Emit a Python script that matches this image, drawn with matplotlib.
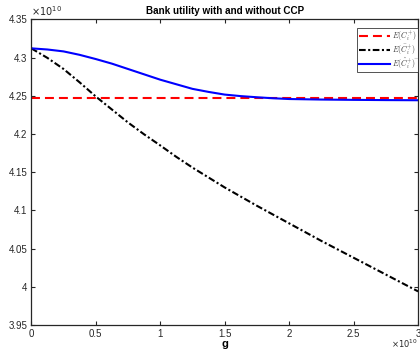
import matplotlib
matplotlib.use("Agg")
import matplotlib.pyplot as plt
from matplotlib.ticker import FuncFormatter, FixedLocator

plt.rcParams['font.family'] = ['Liberation Sans', 'DejaVu Sans']
plt.rcParams['mathtext.fontset'] = 'cm'

# data (x in units of g /1e10, y utility /1e10)
g = [0.0, 0.125, 0.25, 0.375, 0.5, 0.625, 0.75, 0.875, 1.0, 1.125, 1.25, 1.375,
     1.5, 1.625, 1.75, 1.875, 2.0, 2.25, 2.5, 2.75, 3.0]
scale = 1e10
red_level = 4.2467
black_vals = [4.312, 4.2995, 4.285, 4.2675, 4.249, 4.232, 4.215, 4.1995, 4.185,
              4.170, 4.156, 4.143, 4.130, 4.118, 4.106, 4.0945, 4.083, 4.060,
              4.038, 4.016, 3.994]
blue_vals = [4.312, 4.3105, 4.308, 4.3035, 4.298, 4.292, 4.285, 4.278, 4.271,
             4.265, 4.259, 4.255, 4.2515, 4.2495, 4.248, 4.2467, 4.2457, 4.2450,
             4.2446, 4.2443, 4.2441]

x_ticks = [0, 0.5, 1, 1.5, 2, 2.5, 3]
y_ticks = [3.95, 4.0, 4.05, 4.1, 4.15, 4.2, 4.25, 4.3, 4.35]
labels = [r'$E(C_i^{+})$', r'$E(\bar{C}_i^{+})$', r'$E(\hat{C}_i^{+})$']
title = 'Bank utility with and without CCP'

xs = [v * scale for v in g]
fig = plt.figure(figsize=(4.2, 3.51), dpi=100)
ax = fig.add_axes([0.0745, 0.074, 0.921, 0.871])

ax.plot([xs[0], xs[-1]], [red_level * scale] * 2, color='red', lw=1.5,
        linestyle=(0, (4.3, 2.4)), label=labels[0])
ax.plot(xs, [v * scale for v in black_vals], color='black', lw=1.5,
        linestyle=(0, (3.2, 1.2, 1.0, 1.2)), label=labels[1])
ax.plot(xs, [v * scale for v in blue_vals], color='#0000ff', lw=1.5,
        label=labels[2])

ax.set_xlim(0, 3 * scale)
ax.set_ylim(3.95 * scale, 4.35 * scale)
ax.xaxis.set_major_locator(FixedLocator([t * scale for t in x_ticks]))
ax.yaxis.set_major_locator(FixedLocator([t * scale for t in y_ticks]))
fmt = FuncFormatter(lambda v, p: ('%g' % round(v / scale, 4)))
ax.xaxis.set_major_formatter(fmt)
ax.yaxis.set_major_formatter(fmt)

ax.tick_params(direction='in', length=3, width=0.8, labelsize=7,
               colors='#262626', top=True, right=True, pad=3)
for s in ax.spines.values():
    s.set_color('#262626')
    s.set_linewidth(0.9)

ax.set_title(title, fontsize=7.1, fontweight='bold', pad=4)
ax.set_xlabel('g', fontsize=8, fontweight='bold', labelpad=0)

ax.text(0.0, 1.005, r'$\times 10^{10}$', transform=ax.transAxes, fontsize=7,
        color='#262626', ha='left', va='bottom',
        math_fontfamily='dejavusans')
ax.text(1.0, -0.042, r'$\times 10^{10}$', transform=ax.transAxes, fontsize=6,
        color='#262626', ha='right', va='top',
        math_fontfamily='dejavusans')

leg = ax.legend(loc='upper right', bbox_to_anchor=(1.0, 0.973), fontsize=5.6,
                frameon=True, fancybox=False, edgecolor='#262626',
                handlelength=4.0, handletextpad=0.3, borderpad=0.2,
                labelspacing=-0.12, borderaxespad=0.0)
leg.get_frame().set_linewidth(0.7)
for t in leg.get_texts():
    t.set_color('#404040')

fig.savefig('out.png', dpi=100)
